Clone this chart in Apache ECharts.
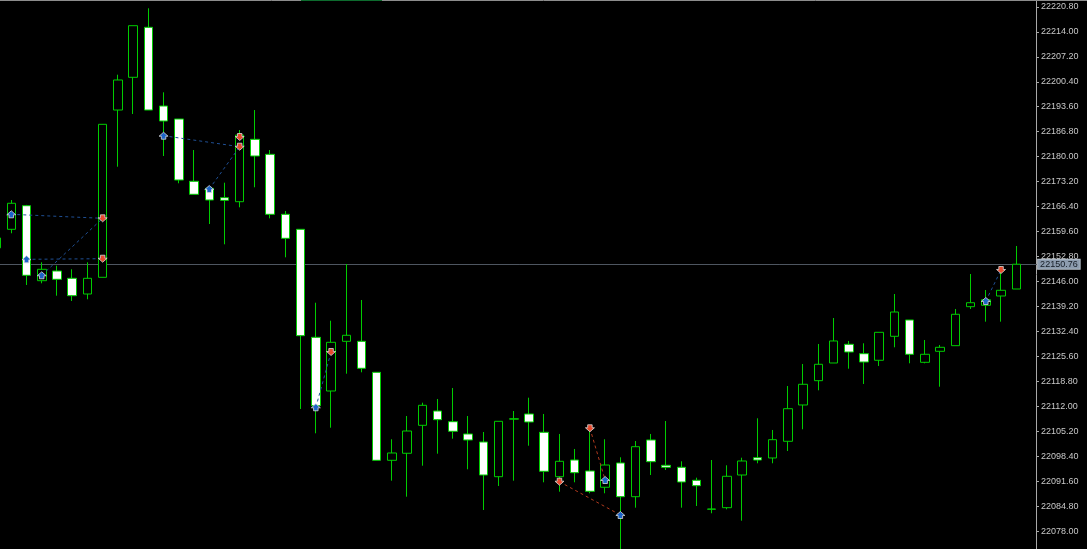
<!DOCTYPE html>
<html>
<head>
<meta charset="utf-8">
<script src="https://cdn.jsdelivr.net/npm/echarts@6/dist/echarts.min.js"></script>
<style>
html,body{margin:0;padding:0;background:#000;}
#chart{width:1087px;height:549px;}
</style>
</head>
<body>
<div id="chart"></div>
<script>
// ---- data ----
const categories = [0,1,2,3,4,5,6,7,8,9,10,11,12,13,14,15,16,17,18,19,20,21,22,23,24,25,26,27,28,29,30,31,32,33,34,35,36,37,38,39,40,41,42,43,44,45,46,47,48,49,50,51,52,53,54,55,56,57,58,59,60,61,62,63,64,65,66,67,68].map(String);
const opens  = [22155.20,22160.26,22166.68,22146.28,22148.92,22146.93,22142.66,22147.20,22192.71,22201.61,22215.21,22193.80,22190.27,22173.32,22171.41,22168.86,22167.77,22184.74,22180.66,22164.34,22160.26,22130.88,22116.27,22129.79,22129.79,22121.36,22097.42,22099.33,22106.94,22110.83,22107.92,22104.58,22102.40,22092.96,22108.60,22110.02,22105.04,22092.96,22097.50,22094.51,22090.08,22096.69,22087.52,22102.95,22096.06,22095.52,22091.98,22084.10,22084.53,22093.42,22098.13,22098.05,22102.59,22112.47,22119.08,22123.89,22128.98,22126.42,22124.63,22131.15,22135.59,22124.08,22127.07,22128.60,22139.21,22139.59,22142.12,22144.02];
const closes = [22157.90,22167.34,22147.75,22149.38,22146.66,22142.20,22146.93,22188.82,22200.88,22215.65,22192.71,22189.72,22173.67,22169.78,22168.23,22168.15,22185.91,22180.20,22164.34,22157.81,22131.32,22112.28,22129.52,22131.43,22122.45,22097.42,22099.41,22105.39,22112.38,22108.47,22105.31,22102.95,22093.42,22108.03,22108.74,22107.84,22094.43,22097.15,22094.05,22088.99,22096.14,22087.52,22101.12,22097.04,22095.52,22091.52,22090.51,22084.17,22093.07,22097.23,22097.50,22103.03,22111.46,22118.10,22123.54,22129.88,22126.88,22124.16,22132.24,22137.76,22126.26,22126.26,22128.16,22137.14,22140.29,22141.11,22143.67,22150.76];
const lows   = [22154.60,22159.18,22145.11,22145.57,22142.20,22140.76,22141.22,22147.20,22177.29,22191.63,22192.71,22180.20,22172.78,22169.78,22161.70,22156.18,22166.25,22171.69,22163.25,22152.64,22111.38,22104.77,22106.29,22120.98,22121.36,22097.42,22091.87,22087.52,22095.95,22099.22,22103.30,22094.97,22083.90,22090.43,22091.87,22101.39,22091.44,22088.88,22091.44,22088.45,22088.45,22073.00,22084.53,22093.42,22094.78,22084.53,22084.99,22083.01,22084.09,22080.99,22096.61,22096.61,22099.95,22105.86,22116.46,22123.89,22122.34,22118.18,22123.08,22128.16,22123.81,22123.81,22117.44,22128.60,22138.58,22135.13,22135.13,22144.02];
const highs  = [22158.40,22168.23,22166.90,22151.28,22150.36,22149.38,22151.28,22188.82,22202.32,22215.65,22220.38,22197.53,22190.27,22181.83,22171.41,22172.94,22187.27,22192.71,22181.83,22165.24,22160.26,22140.29,22135.40,22150.82,22141.03,22121.36,22103.14,22109.47,22113.09,22114.10,22117.09,22109.47,22105.12,22108.03,22110.83,22114.45,22110.02,22104.58,22100.50,22106.29,22103.14,22098.24,22102.67,22104.58,22108.11,22097.15,22092.69,22097.50,22096.06,22098.13,22108.85,22105.67,22117.63,22123.62,22129.06,22136.13,22129.88,22129.25,22132.24,22142.66,22135.59,22130.15,22128.79,22138.58,22148.10,22143.75,22150.28,22155.72];

const yTicks = [22078.00,22084.80,22091.60,22098.40,22105.20,22112.00,22118.80,22125.60,22132.40,22139.20,22146.00,22152.80,22159.60,22166.40,22173.20,22180.00,22186.80,22193.60,22200.40,22207.20,22214.00,22220.80];
const currentPrice = 22150.76;

// trade arrows: [barIndex, price]
const buyMarks  = [[1,22164.34],[2,22152.10],[3,22147.75],[11,22185.72],[14,22171.22],[21,22111.84],[40,22092.06],[41,22082.54],[65,22140.76]];
const sellMarks = [[7,22163.25],[7,22152.26],[16,22185.37],[16,22182.73],[22,22126.88],[37,22091.60],[39,22106.13],[66,22149.19]];
// trade links: [fromBar, fromPrice, toBar, toPrice]
const buyLinks  = [[1,22164.34,7,22163.25],[2,22152.10,7,22152.26],[3,22147.75,7,22163.25],[11,22185.72,16,22182.73],[14,22171.22,16,22182.73],[21,22111.84,22,22126.88],[65,22140.76,66,22149.19]];
const sellLinks = [[37,22091.60,41,22082.54],[39,22106.13,40,22092.06]];

// ---- chart ----
const candleData = opens.map((o, i) => [o, closes[i], lows[i], highs[i]]);
const GREEN = '#00cc00';
const chart = echarts.init(document.getElementById('chart'), null, {renderer: 'canvas'});

const upArrow = 'path://M4,0 L8,4 L6,4 L6,7 L2,7 L2,4 L0,4 Z';
const downArrow = 'path://M2,0 L6,0 L6,3 L8,3 L4,7 L0,3 L2,3 Z';

chart.setOption({
  backgroundColor: '#000000',
  animation: false,
  grid: {left: -11.54, right: 47.88, top: 0, bottom: 0, outerBoundsMode: 'none', containLabel: false},
  xAxis: {type: 'category', data: categories, boundaryGap: true, show: false},
  yAxis: {
    type: 'value', position: 'right', offset: -3.12,
    min: 22073.29, max: 22222.64, scale: true,
    axisLine: {show: true, lineStyle: {color: '#a8a8a8', width: 1}},
    axisTick: {show: true, length: 3, customValues: yTicks, lineStyle: {color: '#a8a8a8'}},
    axisLabel: {
      show: true, customValues: yTicks, margin: 5,
      color: '#c8c8c8', fontFamily: 'Liberation Sans', fontSize: 9,
      formatter: v => v.toFixed(2)
    },
    splitLine: {show: false}
  },
  graphic: [
    {type: 'line', shape: {x1: 0, y1: 0.5, x2: 1087, y2: 0.5}, style: {stroke: '#8c8c8c', lineWidth: 1}, z: 100},
    {type: 'line', shape: {x1: 301, y1: 0.5, x2: 382, y2: 0.5}, style: {stroke: '#0d6b2e', lineWidth: 1}, z: 101}
  ],
  series: [
    {
      type: 'candlestick',
      data: candleData,
      barWidth: 9,
      itemStyle: {color: '#000000', color0: '#ffffff', borderColor: GREEN, borderColor0: GREEN, borderWidth: 1},
      emphasis: {disabled: true},
      markLine: {
        silent: true, symbol: 'none',
        data: [{yAxis: currentPrice}],
        lineStyle: {color: '#4e5660', width: 1, type: 'solid'},
        label: {
          show: true, position: 'end', distance: -1,
          formatter: () => currentPrice.toFixed(2),
          color: '#141c24', backgroundColor: '#8c9cae', borderColor: '#b4bec8', borderWidth: 1,
          fontFamily: 'Liberation Sans', fontSize: 9, lineHeight: 9, padding: [0, 2, 0, 2]
        },
        z: 1
      },
      z: 2
    },
    {
      type: 'lines', coordinateSystem: 'cartesian2d', silent: true,
      data: buyLinks.map(l => ({coords: [[l[0], l[1]], [l[2], l[3]]]})),
      lineStyle: {color: '#1f4f94', width: 1, type: [3, 3], opacity: 1},
      z: 3
    },
    {
      type: 'lines', coordinateSystem: 'cartesian2d', silent: true,
      data: sellLinks.map(l => ({coords: [[l[0], l[1]], [l[2], l[3]]]})),
      lineStyle: {color: '#b03a1e', width: 1, type: [3, 3], opacity: 1},
      z: 3
    },
    {
      type: 'scatter', data: buyMarks, symbol: upArrow, symbolSize: [9, 7], silent: true,
      itemStyle: {color: '#1c64c8', borderColor: '#d8d8d8', borderWidth: 0.8, opacity: 1},
      z: 4
    },
    {
      type: 'scatter', data: sellMarks, symbol: downArrow, symbolSize: [9, 7], silent: true,
      itemStyle: {color: '#e8482c', borderColor: '#d8d8d8', borderWidth: 0.8, opacity: 1},
      z: 4
    }
  ]
});
</script>
</body>
</html>
